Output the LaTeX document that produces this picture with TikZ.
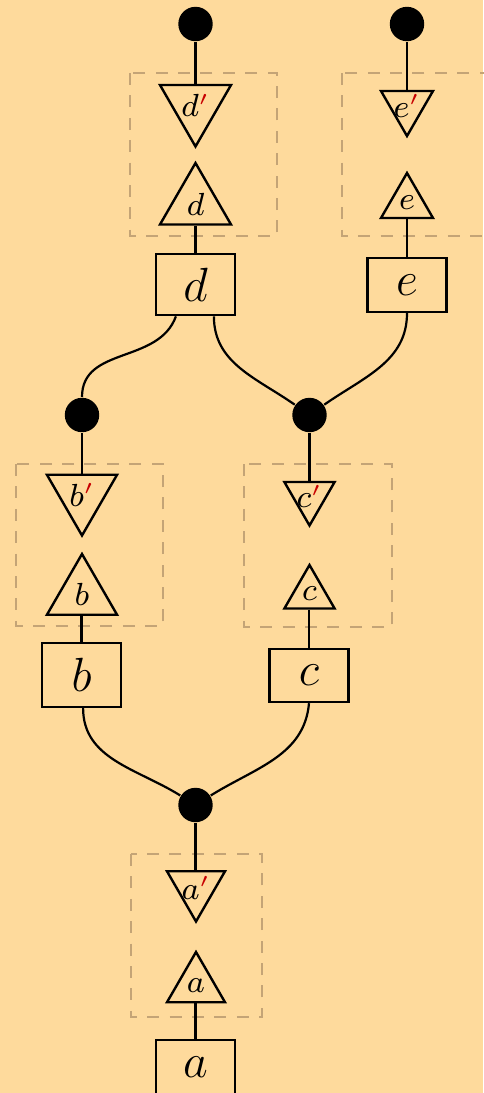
\documentclass[tikz,border=0pt]{standalone}
\usetikzlibrary{shapes.geometric}
\definecolor{paper}{RGB}{254,218,156}
\definecolor{frame}{RGB}{196,164,118}
\definecolor{primec}{RGB}{200,0,0}
\newcommand{\pr}{^{\textcolor{primec}{\prime}}}
\tikzset{
  wire/.style={line width=0.55pt},
  box/.style={draw, line width=0.6pt, minimum width=19.75pt, minimum height=13.5pt,
              inner sep=3.5pt, font=\fontsize{11.75}{14}\selectfont},
  tri/.style={draw, line width=0.6pt, regular polygon, regular polygon sides=3,
              inner sep=-3pt, font=\fontsize{7.6}{9}\selectfont},
  updown/.style={tri, shape border rotate=180},
  blob/.style={circle, fill=black, inner sep=0pt, minimum size=8.6pt},
  group/.style={draw=frame, line width=0.5pt, dash pattern=on 3pt off 2.6pt}
}
\begin{document}
\begin{tikzpicture}[x=0.25pt, y=-0.25pt]
  \fill[paper] (0,0) rectangle (483,1093);
  \useasboundingbox (0,0) rectangle (483,1093);

  % dashed groups
  \draw[group] (130,73) rectangle (277,236);
  \draw[group] (342,73) rectangle (489,236);
  \draw[group] (16,464) rectangle (163,626);
  \draw[group] (244,464) rectangle (392,627);
  \draw[group] (131,854) rectangle (262,1017);

  % top column d
  \node[blob] (td) at (195.5,24) {};
  \node[updown, minimum size=20.5pt] (dp) at (195.5,105.5) {$d\pr$};
  \node[tri, minimum size=20.5pt] (dt) at (195.5,204) {$d$};
  \node[box, minimum height=15.25pt] (bd) at (195.5,284.5) {$d$};

  % top column e
  \node[blob] (te) at (407,24) {};
  \node[updown, minimum size=15pt] (ep) at (407,106) {$e\pr$};
  \node[tri, minimum size=15pt] (et) at (407,203) {$e$};
  \node[box] (be) at (407,285) {$e$};

  % middle dots
  \node[blob] (mb) at (82,415) {};
  \node[blob] (mc) at (309.5,415) {};

  % column b
  \node[updown, minimum size=20.25pt] (bp) at (82,495) {$b\pr$};
  \node[tri, minimum size=20.25pt] (bt) at (82,594.5) {$b$};
  \node[box, minimum height=16pt] (bb) at (81.5,675) {$b$};

  % column c
  \node[updown, minimum size=14.5pt] (cp) at (309.5,496.5) {$c\pr$};
  \node[tri, minimum size=14.5pt] (ct) at (309.5,594) {$c$};
  \node[box, minimum height=13.25pt] (bc) at (309,675.5) {$c$};

  % bottom column a
  \node[blob] (ba) at (195.5,805) {};
  \node[updown, minimum size=16.75pt] (ap) at (196,888) {$a\pr$};
  \node[tri, minimum size=16.75pt] (at) at (196,985.5) {$a$};
  \node[box] (bxa) at (195.5,1067) {$a$};

  % vertical wires
  \draw[wire] (td) -- (dp.corner 2 -| td);
  \draw[wire] (dt.corner 2 -| bd) -- (bd.north);
  \draw[wire] (te) -- (ep.corner 2 -| te);
  \draw[wire] (et.corner 2 -| be) -- (be.north);
  \draw[wire] (mb) -- (bp.corner 2 -| mb);
  \draw[wire] (bt.corner 2 -| bb) -- (bb.north);
  \draw[wire] (mc) -- (cp.corner 2 -| mc);
  \draw[wire] (ct.corner 2 -| bc) -- (bc.north);
  \draw[wire] (ba) -- (ap.corner 2 -| ba);
  \draw[wire] (at.corner 2 -| bxa) -- (bxa.north);

  % merging wires
  \draw[wire] ([xshift=-4.9pt]bd.south) to[out=-110, in=90, looseness=1.05] (mb.north);
  \draw[wire] ([xshift=4.6pt]bd.south) to[out=-90, in=145, looseness=1] (mc);
  \draw[wire] (be.south) to[out=-90, in=35, looseness=1] (mc);
  \draw[wire] ([xshift=0.4pt]bb.south) to[out=-90, in=148, looseness=1] (ba);
  \draw[wire] (bc.south) to[out=-95, in=32, looseness=1] (ba);
\end{tikzpicture}
\end{document}
